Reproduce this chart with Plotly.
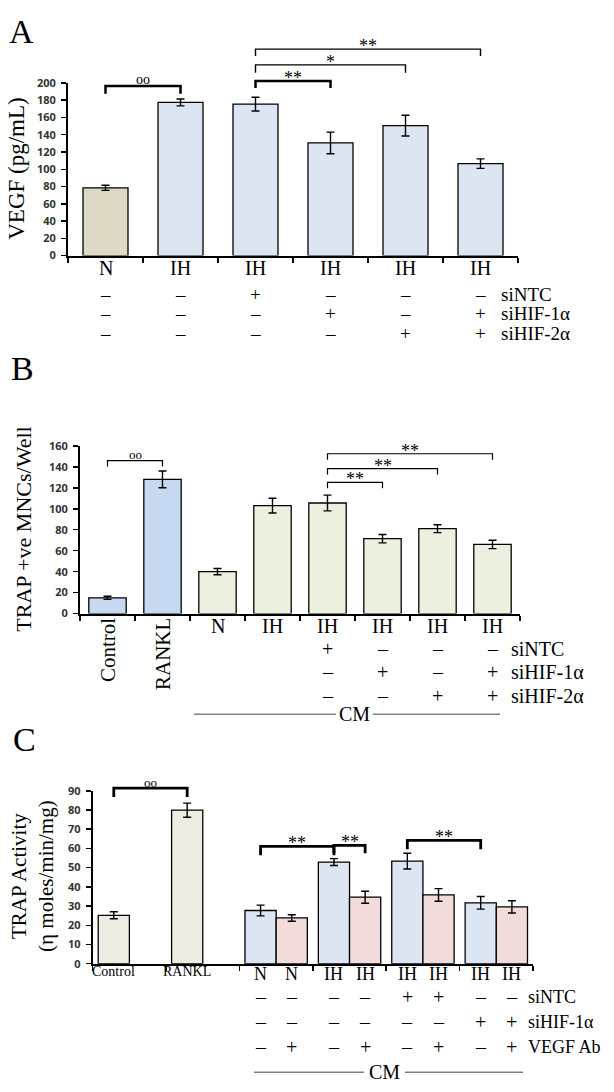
import plotly.graph_objects as go

W, H = 614, 1092

# ---------------- DATA ----------------
# Panel A: VEGF (pg/mL)
a_cats = ["N", "IH", "IH+siNTC", "IH+siHIF-1α", "IH+siHIF-2α", "IH+siHIF-1α+siHIF-2α"]
a_labels = ["N", "IH", "IH", "IH", "IH", "IH"]
a_vals = [78.5, 177.5, 175.5, 130.5, 150.5, 106.5]
a_err = [3.0, 4.0, 8.0, 12.5, 12.0, 5.5]
a_colors = ["#DDD9C4", "#DCE6F2", "#DCE6F2", "#DCE6F2", "#DCE6F2", "#DCE6F2"]
a_rows = ["siNTC", "siHIF-1α", "siHIF-2α"]
a_signs = [["–", "–", "+", "–", "–", "–"],
           ["–", "–", "–", "+", "–", "+"],
           ["–", "–", "–", "–", "+", "+"]]
a_ticks = [0, 20, 40, 60, 80, 100, 120, 140, 160, 180, 200]

# Panel B: TRAP +ve MNCs/Well
b_cats = ["Control", "RANKL", "CM N", "CM IH", "CM IH+siNTC", "CM IH+siHIF-1α",
          "CM IH+siHIF-2α", "CM IH+siHIF-1α+siHIF-2α"]
b_labels = ["Control", "RANKL", "N", "IH", "IH", "IH", "IH", "IH"]
b_vals = [15.0, 128.0, 40.0, 103.0, 105.5, 71.5, 81.0, 66.0]
b_err = [1.5, 8.0, 3.0, 7.0, 7.5, 4.0, 3.8, 4.0]
b_colors = ["#C6D9F1", "#C6D9F1", "#EBF1DE", "#EBF1DE", "#EBF1DE", "#EBF1DE", "#EBF1DE", "#EBF1DE"]
b_rows = ["siNTC", "siHIF-1α", "siHIF-2α"]
b_signs = [["", "", "", "", "+", "–", "–", "–"],
           ["", "", "", "", "–", "+", "–", "+"],
           ["", "", "", "", "–", "–", "+", "+"]]
b_ticks = [0, 20, 40, 60, 80, 100, 120, 140, 160]

# Panel C: TRAP activity (η moles/min/mg)
c_groups = ["Control", "RANKL", "CM N", "CM IH", "CM IH+siNTC", "CM IH+siHIF-1α"]
c_noab = [25.2, 79.9, 27.7, 52.9, 53.4, 31.7]
c_noab_err = [1.8, 3.7, 2.8, 1.8, 4.1, 3.3]
c_ab = [None, None, 23.8, 34.6, 35.8, 29.6]
c_ab_err = [0, 0, 1.7, 3.1, 3.3, 3.2]
c_noab_colors = ["#EEECE1", "#EEECE1", "#DCE6F2", "#DCE6F2", "#DCE6F2", "#DCE6F2"]
c_ab_color = "#F2DCDB"
c_bar_labels = ["N", "N", "IH", "IH", "IH", "IH", "IH", "IH"]
c_rows = ["siNTC", "siHIF-1α", "VEGF Ab"]
c_signs = [["–", "–", "–", "–", "+", "+", "–", "–"],
           ["–", "–", "–", "–", "–", "–", "+", "+"],
           ["–", "+", "–", "+", "–", "+", "–", "+"]]
c_ticks = [0, 10, 20, 30, 40, 50, 60, 70, 80, 90]

# ---------------- LAYOUT GEOMETRY (pixels) ----------------
SERIF = "Liberation Serif"
SANS = "Open Sans"
panels = {
    "A": dict(l=68, r=518, b=251, t=76, vmax=200, n=len(a_cats)),
    "B": dict(l=80, r=520, b=614, t=444, vmax=160, n=len(b_cats)),
    "C": dict(l=92.7, r=533, b=969, t=793.7, vmax=90, n=len(c_groups)),
}
C_BARGAP = 0.15
C_OFF = (1 - C_BARGAP) / 4.0


def px(x):
    return x / W


def py(y):
    return 1 - y / H


def cat_px(p, idx):
    g = panels[p]
    return g["l"] + (idx + 0.5) * (g["r"] - g["l"]) / g["n"]


def val_py(p, v):
    g = panels[p]
    return g["b"] - v * (g["b"] - g["t"]) / g["vmax"]


fig = go.Figure()

err_style = dict(type="data", color="black", thickness=1.4, width=4)
line_style = dict(color="black", width=1.3)

fig.add_trace(go.Bar(x=a_cats, y=a_vals, width=0.6, marker=dict(color=a_colors, line=line_style),
                     error_y=dict(array=a_err, **err_style), xaxis="x", yaxis="y"))
fig.add_trace(go.Bar(x=b_cats, y=b_vals, width=0.68, marker=dict(color=b_colors, line=line_style),
                     error_y=dict(array=b_err, **err_style), xaxis="x2", yaxis="y2"))
fig.add_trace(go.Bar(x=c_groups, y=c_noab, marker=dict(color=c_noab_colors, line=line_style),
                     error_y=dict(array=c_noab_err, **err_style), xaxis="x3", yaxis="y3",
                     offsetgroup="noab"))
fig.add_trace(go.Bar(x=c_groups, y=c_ab, marker=dict(color=c_ab_color, line=line_style),
                     error_y=dict(array=c_ab_err, **err_style), xaxis="x3", yaxis="y3",
                     offsetgroup="ab"))

shapes = []
ann = []


def axis_pair(p, ticks):
    g = panels[p]
    xa = dict(domain=[px(g["l"]), px(g["r"])], type="category", showline=True, linecolor="black",
              linewidth=2, ticks="outside", tickson="boundaries", ticklen=5, tickwidth=1.5,
              tickcolor="black", showticklabels=False, showgrid=False, zeroline=False,
              range=[-0.5, g["n"] - 0.5], fixedrange=True)
    ya = dict(domain=[py(g["b"]), py(g["t"])], range=[0, g["vmax"]], showline=True, linecolor="black",
              linewidth=2, ticks="outside", ticklen=5, tickwidth=1.5, tickcolor="black",
              tickvals=ticks, showgrid=False, zeroline=False, ticklabelstandoff=3,
              tickfont=dict(family=SANS, size=11, color="#333333", weight="bold"), fixedrange=True)
    return xa, ya


xa, ya = axis_pair("A", a_ticks)
xa2, ya2 = axis_pair("B", b_ticks)
xa3, ya3 = axis_pair("C", c_ticks)
ya2["anchor"] = "x2"; xa2["anchor"] = "y2"
ya3["anchor"] = "x3"; xa3["anchor"] = "y3"
ya["anchor"] = "x"; xa["anchor"] = "y"


def text(x, y, s, size, xanchor="center", yanchor="middle", angle=0, family=SERIF):
    ann.append(dict(x=px(x), y=py(y), xref="paper", yref="paper", text=s, showarrow=False,
                    xanchor=xanchor, yanchor=yanchor, textangle=angle, borderpad=0,
                    font=dict(family=family, size=size, color="black")))


def bracket(x1, x2, ytop, leg, lw, label, size, dy):
    path = "M {a},{b} L {a},{c} L {d},{c} L {d},{b}".format(
        a=px(x1), b=py(ytop + leg), c=py(ytop), d=px(x2))
    shapes.append(dict(type="path", path=path, xref="paper", yref="paper",
                       line=dict(color="black", width=lw)))
    text((x1 + x2) / 2, ytop - dy, label, size)


# Panel letters
text(8, 24, "A", 34, xanchor="left")
text(10, 366, "B", 34, xanchor="left")
text(12, 742, "C", 34, xanchor="left")

# ---------- Panel A annotations ----------
text(17, 163, "VEGF (pg/mL)", 23, angle=-90)
for i, lab in enumerate(a_labels):
    text(cat_px("A", i), 264, lab, 20)
a_row_y = [290, 310, 330]
for r, row in enumerate(a_signs):
    for i, s in enumerate(row):
        if s:
            text(cat_px("A", i), a_row_y[r], s, 19)
    text(500, a_row_y[r], a_rows[r], 19, xanchor="left")
bracket(cat_px("A", 0), cat_px("A", 1), val_py("A", 196.6), 8, 2.5, "oo", 14, 6)
bracket(cat_px("A", 2), cat_px("A", 3), val_py("A", 202.3), 7, 2.5, "**", 18, 3)
bracket(cat_px("A", 2), cat_px("A", 4), val_py("A", 220.9), 8, 1.4, "*", 18, 3)
bracket(cat_px("A", 2), cat_px("A", 5), val_py("A", 239.2), 7, 1.4, "**", 18, 3)

# ---------- Panel B annotations ----------
text(24, 529, "TRAP +ve MNCs/Well", 22, angle=-90)
for i, lab in enumerate(b_labels):
    if i < 2:
        text(cat_px("B", i), 618, lab, 21, yanchor="top", angle=-90)
    else:
        text(cat_px("B", i), 627, lab, 20)
b_row_y = [650, 673, 698]
for r, row in enumerate(b_signs):
    for i, s in enumerate(row):
        if s:
            text(cat_px("B", i), b_row_y[r], s, 20)
    text(510, b_row_y[r], b_rows[r], 20, xanchor="left")
bracket(cat_px("B", 0), cat_px("B", 1), val_py("B", 145.9), 6, 1.2, "oo", 13, 6)
bracket(cat_px("B", 4), cat_px("B", 5), val_py("B", 125.2), 6, 1.2, "**", 18, 3)
bracket(cat_px("B", 4), cat_px("B", 6), val_py("B", 138.4), 6, 1.2, "**", 18, 3)
bracket(cat_px("B", 4), cat_px("B", 7), val_py("B", 152.5), 6, 1.2, "**", 18, 3)
for seg in [(194, 336), (373, 500)]:
    shapes.append(dict(type="line", xref="paper", yref="paper", x0=px(seg[0]), x1=px(seg[1]),
                       y0=py(716), y1=py(716), line=dict(color="#444444", width=1)))
text(354.5, 716, "CM", 20)

# ---------- Panel C annotations ----------
text(33, 880, "TRAP Activity<br>(η moles/min/mg)", 21, angle=-90)
for g, lab in enumerate(c_groups[:2]):
    text(cat_px("C", g - C_OFF), 977, lab, 14)
bar_pos = []
for g in range(2, len(c_groups)):
    bar_pos += [g - C_OFF, g + C_OFF]
for k, lab in enumerate(c_bar_labels):
    text(cat_px("C", bar_pos[k]), 979, lab, 18)
c_row_y = [1003, 1028, 1053]
for r, row in enumerate(c_signs):
    for k, s in enumerate(row):
        if s:
            text(cat_px("C", bar_pos[k]), c_row_y[r], s, 20)
    text(527, c_row_y[r], c_rows[r], 18, xanchor="left")
bracket(cat_px("C", 0 - C_OFF), cat_px("C", 1 - C_OFF), val_py("C", 91.4), 9, 2.8, "oo", 13, 6)
bracket(cat_px("C", 2 - C_OFF), cat_px("C", 3 - C_OFF), val_py("C", 61.1), 9, 2.8, "**", 18, 3)
bracket(cat_px("C", 3 - C_OFF), cat_px("C", 3 + C_OFF), val_py("C", 61.6), 8, 2.8, "**", 18, 3)
bracket(cat_px("C", 4 - C_OFF), cat_px("C", 5 - C_OFF), val_py("C", 64.2), 9, 2.8, "**", 18, 3)
for seg in [(254, 364), (405, 523)]:
    shapes.append(dict(type="line", xref="paper", yref="paper", x0=px(seg[0]), x1=px(seg[1]),
                       y0=py(1079), y1=py(1079), line=dict(color="#444444", width=1)))
text(384.5, 1079, "CM", 20)

fig.update_layout(
    width=W, height=H, margin=dict(l=0, r=0, t=0, b=0),
    paper_bgcolor="white", plot_bgcolor="white", showlegend=False,
    barmode="group", bargap=C_BARGAP, bargroupgap=0,
    xaxis=xa, yaxis=ya, xaxis2=xa2, yaxis2=ya2, xaxis3=xa3, yaxis3=ya3,
    shapes=shapes, annotations=ann,
)

fig.write_html("out.html", config={"displayModeBar": False, "staticPlot": True},
               post_script="document.body.style.margin='0';document.body.style.overflow='hidden';")
